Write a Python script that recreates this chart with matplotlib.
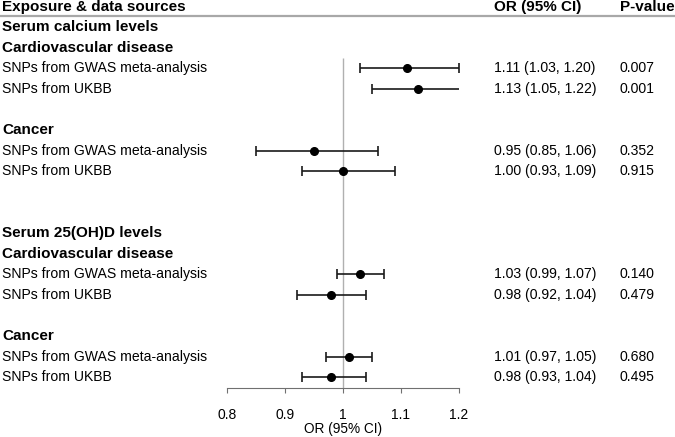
import matplotlib.pyplot as plt
from matplotlib.lines import Line2D
from matplotlib.transforms import blended_transform_factory

# rows of the table, top to bottom ('' = blank spacer row)
row_labels = ['Serum calcium levels', 'Cardiovascular disease',
              'SNPs from GWAS meta-analysis', 'SNPs from UKBB', '',
              'Cancer', 'SNPs from GWAS meta-analysis', 'SNPs from UKBB', '', '',
              'Serum 25(OH)D levels', 'Cardiovascular disease',
              'SNPs from GWAS meta-analysis', 'SNPs from UKBB', '',
              'Cancer', 'SNPs from GWAS meta-analysis', 'SNPs from UKBB']
row_bold = [True, True, False, False, False, True, False, False, False, False,
            True, True, False, False, False, True, False, False]

# estimates for the data rows (in order)
or_est = [1.11, 1.13, 0.95, 1.00, 1.03, 0.98, 1.01, 0.98]
ci_low = [1.03, 1.05, 0.85, 0.93, 0.99, 0.92, 0.97, 0.93]
ci_high = [1.20, 1.22, 1.06, 1.09, 1.07, 1.04, 1.05, 1.04]
p_values = ['0.007', '0.001', '0.352', '0.915', '0.140', '0.479', '0.680', '0.495']
x_ticks = [0.8, 0.9, 1.0, 1.1, 1.2]
x_tick_labels = ['0.8', '0.9', '1', '1.1', '1.2']

plt.rcParams['font.family'] = ['Liberation Sans', 'DejaVu Sans']
fs = 10.1      # regular table text
fs_b = 11      # bold headings

W, H = 675, 437
fig = plt.figure(figsize=(W / 100, H / 100), dpi=100)
# axes: x from 0.8 (px 227) to 1.2 (px 459); y from top (px 0) to axis line (px 388)
ax = fig.add_axes([227 / W, (H - 388) / H, (459 - 227) / W, 388 / H])
row0_px, row_h = 27, 20.6
ax.set_xlim(0.8, 1.2)
ax.set_ylim((388 - row0_px) / row_h, -row0_px / row_h)

data_rows = [i for i, lab in enumerate(row_labels) if lab.startswith('SNPs')]

ax.vlines(1.0, 1.5, ax.get_ylim()[0], color='#b0b0b0', lw=1, zorder=1)
ax.errorbar(or_est, data_rows,
            xerr=[[e - l for e, l in zip(or_est, ci_low)],
                  [h - e for e, h in zip(or_est, ci_high)]],
            fmt='o', color='black', ecolor='#1a1a1a', elinewidth=1.2,
            capsize=3.3, capthick=1.2, markersize=5.5, zorder=3)

tr = blended_transform_factory(fig.transFigure, ax.transData)

# header
hdr_y = -0.95
ax.text(2 / W, hdr_y, 'Exposure & data sources', transform=tr, fontsize=fs_b,
        fontweight='bold', va='center', ha='left')
ax.text(494 / W, hdr_y, 'OR (95% CI)', transform=tr, fontsize=fs_b,
        fontweight='bold', va='center', ha='left')
ax.text(620 / W, hdr_y, 'P-value', transform=tr, fontsize=fs_b,
        fontweight='bold', va='center', ha='left')
fig.add_artist(Line2D([0, 1], [-0.55, -0.55], transform=tr, color='#a8a8a8', lw=1.6))

for i, (lab, b) in enumerate(zip(row_labels, row_bold)):
    if lab:
        ax.text(2 / W, i, lab, transform=tr, va='center', ha='left',
                fontsize=fs_b if b else fs, fontweight='bold' if b else 'normal')

for k, r in enumerate(data_rows):
    ax.text(494 / W, r, f'{or_est[k]:.2f} ({ci_low[k]:.2f}, {ci_high[k]:.2f})',
            transform=tr, fontsize=fs, va='center', ha='left')
    ax.text(620 / W, r, p_values[k], transform=tr, fontsize=fs, va='center', ha='left')

for s in ['top', 'right', 'left']:
    ax.spines[s].set_visible(False)
ax.spines['bottom'].set_color('#707070')
ax.set_yticks([])
ax.set_xticks(x_ticks)
ax.set_xticklabels(x_tick_labels, fontsize=10)
ax.tick_params(axis='x', length=3.6, color='#707070', pad=10.5)
ax.set_xlabel('OR (95% CI)', fontsize=9.8, labelpad=0.5)
ax.patch.set_alpha(0)

fig.savefig('out.png', dpi=100)
